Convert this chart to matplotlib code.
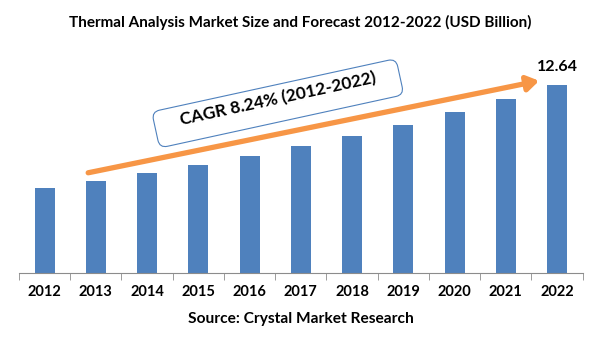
import matplotlib
matplotlib.use("Agg")
import matplotlib.pyplot as plt
import matplotlib.transforms as mtransforms
from matplotlib.patches import FancyBboxPatch
import numpy as np

years = ["2012", "2013", "2014", "2015", "2016", "2017", "2018", "2019", "2020", "2021", "2022"]
market_size = [5.72, 6.19, 6.72, 7.26, 7.86, 8.53, 9.20, 9.94, 10.81, 11.68, 12.64]
title = "Thermal Analysis Market Size and Forecast 2012-2022 (USD Billion)"
cagr_label = "CAGR 8.24% (2012-2022)"
source = "Source: Crystal Market Research"

bar_color = "#4F81BD"
arrow_color = "#F79646"
axis_color = "#8C8C8C"

plt.rcParams["font.family"] = ["Lato", "DejaVu Sans"]
plt.rcParams["font.weight"] = "bold"

fig = plt.figure(figsize=(6.01, 3.61), dpi=100)
ax = fig.add_axes([0.0316, 0.243, 0.938, 0.646])

x = np.arange(len(years))
ax.bar(x, market_size, width=0.39, color=bar_color, zorder=2)
ax.set_xlim(-0.5, len(years) - 0.5)
ax.set_ylim(0, 15.64)

for side in ["top", "right", "left"]:
    ax.spines[side].set_visible(False)
ax.spines["bottom"].set_color(axis_color)
ax.set_yticks([])
ax.set_xticks(x)
ax.set_xticklabels(years, fontsize=10.5, fontweight="bold")
ax.tick_params(axis="x", which="major", length=0, pad=8.5)
ax.set_xticks(np.arange(-0.5, len(years)), minor=True)
ax.tick_params(axis="x", which="minor", length=5, color=axis_color)

# value label on the last bar
ax.text(x[-1], market_size[-1] + 0.75, f"{market_size[-1]:.2f}", ha="center",
        va="bottom", fontsize=11.5, fontweight="bold")

# growth arrow
ax.annotate("", xy=(9.65, 12.91), xytext=(0.85, 6.74),
            arrowprops=dict(arrowstyle="-|>,head_length=0.7,head_width=0.45",
                            color=arrow_color, lw=3.8, shrinkA=0, shrinkB=0),
            annotation_clip=False)

# rotated rounded box with the CAGR note
angle = 12.3
box_tr = (mtransforms.Affine2D().rotate_deg(angle)
          + mtransforms.ScaledTranslation(4.55, 11.40, ax.transData))
box = FancyBboxPatch((-125, -18.5), 250, 37,
                     boxstyle="round,pad=0,rounding_size=8",
                     fc="white", ec="#4F81BD", lw=0.8,
                     transform=box_tr, clip_on=False, zorder=3)
ax.add_patch(box)
ax.text(4.55, 11.72, cagr_label, rotation=angle, ha="center", va="center",
        fontsize=12.5, fontweight="bold", rotation_mode="anchor", zorder=4)

fig.text(0.5, 0.938, title, ha="center", va="center", fontsize=11, fontweight="bold")
fig.text(0.5, 0.116, source, ha="center", va="center", fontsize=11.2, fontweight="bold")

fig.savefig("out.png", dpi=100)
